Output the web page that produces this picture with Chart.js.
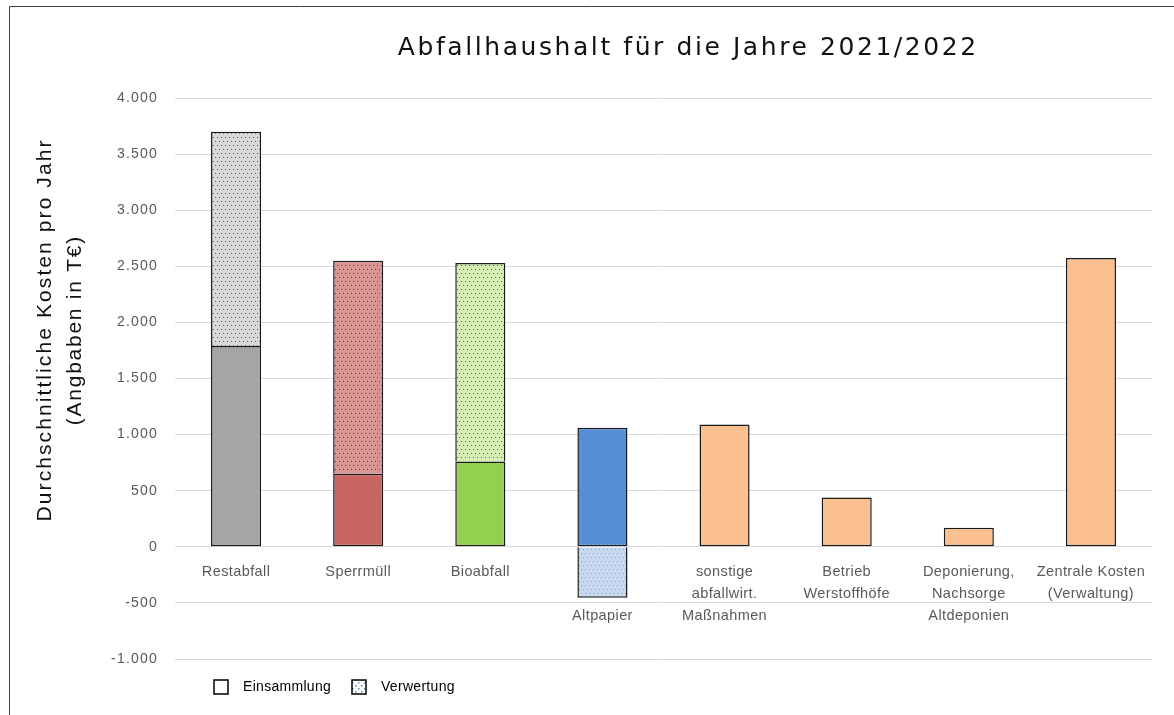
<!DOCTYPE html>
<html>
<head>
<meta charset="utf-8">
<script src="https://cdn.jsdelivr.net/npm/chart.js@4.4.0/dist/chart.umd.min.js"></script>
<style>
  html, body { margin: 0; padding: 0; background: #fff; }
  #wrap { width: 1174px; height: 715px; }
</style>
</head>
<body>
<div id="wrap"><canvas id="chart" width="1174" height="715"></canvas></div>
<script>
// data
const categories = [
    ['Restabfall'],
    ['Sperrmüll'],
    ['Bioabfall'],
    ['', '', 'Altpapier'],
    ['sonstige', 'abfallwirt.', 'Maßnahmen'],
    ['Betrieb', 'Werstoffhöfe'],
    ['Deponierung,', 'Nachsorge', 'Altdeponien'],
    ['Zentrale Kosten', '(Verwaltung)']
];
const einsammlung = [1790, 650, 760, 1060, 1090, 440, 170, 2575];
const verwertung = [1910, 1900, 1770, -455, null, null, null, null];
const yTickValues = [-1000, -500, 0, 500, 1000, 1500, 2000, 2500, 3000, 3500, 4000];
const seriesNames = ['Einsammlung', 'Verwertung'];
const chartTitle = 'Abfallhaushalt für die Jahre 2021/2022';
const yTitle = ['Durchschnittliche Kosten pro Jahr', '(Angbaben in T€)'];

// colours per bar
const solidColors = ['#a5a5a5', '#c86664', '#92d050', '#558ed5', '#fac090', '#fac090', '#fac090', '#fac090'];
const dottedBg = ['#d9d9d9', '#d99594', '#d4efb4', '#c6d9f1'];
const dottedDot = ['#595959', '#6b3b3a', '#4f6b38', '#7f9fcf'];

const canvas = document.getElementById('chart');
const ctx = canvas.getContext('2d');

function dotPattern(bg, dot) {
    const c = document.createElement('canvas');
    c.width = 4;
    c.height = 8;
    const p = c.getContext('2d');
    p.fillStyle = bg;
    p.fillRect(0, 0, 4, 8);
    p.fillStyle = dot;
    p.fillRect(1, 1, 1, 1);
    p.fillRect(3, 5, 1, 1);
    return ctx.createPattern(c, 'repeat');
}

function legendPattern() {
    const c = document.createElement('canvas');
    c.width = 6;
    c.height = 6;
    const p = c.getContext('2d');
    p.fillStyle = '#fff';
    p.fillRect(0, 0, 6, 6);
    p.fillStyle = '#5b8fd0';
    p.fillRect(1, 1, 1.5, 1.5);
    p.fillRect(4, 4, 1.5, 1.5);
    return ctx.createPattern(c, 'repeat');
}

function formatDe(v) {
    const s = Math.abs(v).toString().replace(/\B(?=(\d{3})+(?!\d))/g, '.');
    return (v < 0 ? '-' : '') + s;
}

function spacedText(c, text, x, y, target) {
    c.letterSpacing = '0px';
    const w = c.measureText(text).width;
    const sp = Math.max(0, (target - w) / text.length);
    c.letterSpacing = sp + 'px';
    c.fillText(text, x + sp / 2, y);
}

const decor = {
    id: 'decor',
    beforeDraw(chart) {
        const c = chart.ctx;
        c.save();
        c.strokeStyle = '#404040';
        c.lineWidth = 1;
        c.beginPath();
        c.moveTo(9.5, 715);
        c.lineTo(9.5, 6.5);
        c.lineTo(1174, 6.5);
        c.stroke();
        c.restore();
        c.letterSpacing = '1.2px';
    },
    afterDraw(chart) {
        const c = chart.ctx;
        const xs = chart.scales.x;
        const ys = chart.scales.y;

        // title
        c.save();
        c.fillStyle = '#111';
        c.font = '25px "DejaVu Sans", sans-serif';
        c.textAlign = 'center';
        c.textBaseline = 'middle';
        spacedText(c, chartTitle, 687, 48, 581);
        c.restore();

        // y axis title
        c.save();
        c.fillStyle = '#111';
        c.font = '21px "Liberation Sans", Arial, sans-serif';
        c.textAlign = 'center';
        c.textBaseline = 'middle';
        c.translate(45, 331);
        c.rotate(-Math.PI / 2);
        spacedText(c, yTitle[0], 0, 0, 383);
        c.translate(0, 30);
        spacedText(c, yTitle[1], 0, 0, 190);
        c.restore();

        // category labels below the zero line
        c.save();
        c.fillStyle = '#595959';
        c.font = '14.5px "Liberation Sans", Arial, sans-serif';
        c.textAlign = 'center';
        c.textBaseline = 'middle';
        c.letterSpacing = '0.4px';
        const y0 = ys.getPixelForValue(0) + 25;
        categories.forEach((lines, i) => {
            const x = xs.getPixelForValue(i);
            lines.forEach((t, j) => c.fillText(t, x, y0 + j * 22));
        });
        c.restore();

        // legend
        c.save();
        c.font = '14px "Liberation Sans", Arial, sans-serif';
        c.textBaseline = 'middle';
        c.fillStyle = '#000';
        c.letterSpacing = '0.3px';
        const ly = 687;
        const items = [
            { x: 214, fill: '#fff', label: seriesNames[0] },
            { x: 352, fill: legendPattern(), label: seriesNames[1] }
        ];
        items.forEach(it => {
            c.fillStyle = it.fill;
            c.fillRect(it.x, ly - 7, 14, 14);
            c.strokeStyle = '#000';
            c.lineWidth = 1.5;
            c.strokeRect(it.x, ly - 7, 14, 14);
            c.fillStyle = '#000';
            c.fillText(it.label, it.x + 29, ly);
        });
        c.restore();
    }
};

new Chart(ctx, {
    type: 'bar',
    data: {
        labels: categories,
        datasets: [
            {
                label: seriesNames[0],
                data: einsammlung,
                backgroundColor: solidColors,
                borderColor: '#1a1a1a',
                borderWidth: 1.5,
                borderSkipped: false
            },
            {
                label: seriesNames[1],
                data: verwertung,
                backgroundColor: dottedBg.map((bg, i) => dotPattern(bg, dottedDot[i])),
                borderColor: '#1a1a1a',
                borderWidth: 1.5,
                borderSkipped: 'start'
            }
        ]
    },
    options: {
        responsive: false,
        animation: false,
        devicePixelRatio: 1,
        layout: {
            padding: { top: 98, bottom: 56, left: 95, right: 22 }
        },
        plugins: {
            legend: { display: false },
            tooltip: { enabled: false }
        },
        datasets: {
            bar: { categoryPercentage: 1, barPercentage: 0.41 }
        },
        scales: {
            x: {
                stacked: true,
                display: false
            },
            y: {
                stacked: true,
                min: -1000,
                max: 4000,
                afterBuildTicks: scale => {
                    scale.ticks = yTickValues.map(v => ({ value: v }));
                },
                afterFit: scale => {
                    scale.width = 80;
                },
                border: { display: false },
                grid: {
                    color: '#d9d9d9',
                    lineWidth: 1,
                    drawTicks: false
                },
                ticks: {
                    padding: 17,
                    color: '#595959',
                    font: { family: '"Liberation Sans", Arial, sans-serif', size: 14 },
                    callback: v => formatDe(v)
                }
            }
        }
    },
    plugins: [decor]
});
</script>
</body>
</html>
